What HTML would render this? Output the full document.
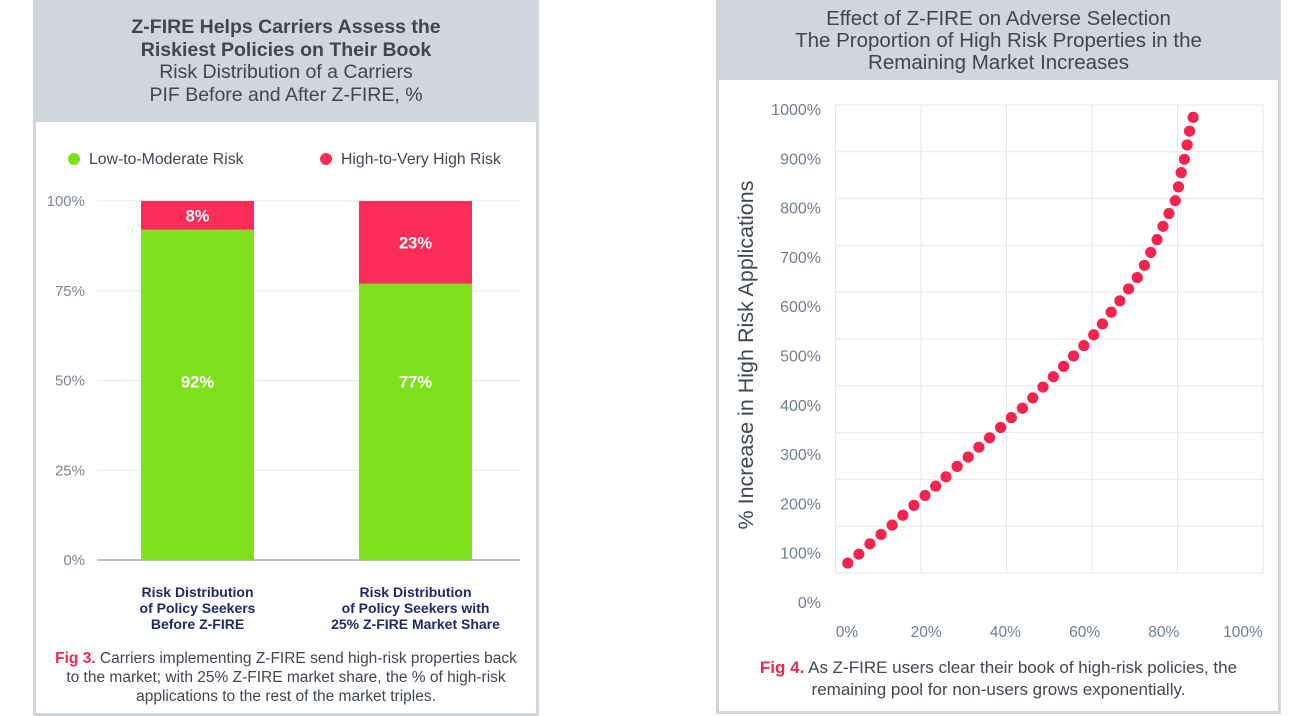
<!DOCTYPE html>
<html><head><meta charset="utf-8">
<style>
body{margin:0;width:1314px;height:716px;background:#fff;font-family:"Liberation Sans",sans-serif;position:relative;overflow:hidden}
.panel{position:absolute;background:#cfd6dc}
.inner{position:absolute;background:#fff}
.hdr{position:absolute;text-align:center;color:#3d4852}
svg{position:absolute;left:0;top:0}
</style></head><body>
<div class="panel" style="left:33px;top:0;width:506px;height:716px"></div>
<div class="inner" style="left:36px;top:122px;width:500px;height:591px"></div>
<div class="hdr" style="left:33px;top:16px;width:506px;font-size:19.5px;line-height:22.5px"><b>Z-FIRE Helps Carriers Assess the<br>Riskiest Policies on Their Book</b><br>Risk Distribution of a Carriers<br>PIF Before and After Z-FIRE, %</div>

<div class="panel" style="left:716px;top:0;width:565px;height:714px"></div>
<div class="inner" style="left:719px;top:80px;width:559px;height:631px"></div>
<div class="hdr" style="left:716px;top:8px;width:565px;font-size:20.5px;line-height:22px">Effect of Z-FIRE on Adverse Selection<br>The Proportion of High Risk Properties in the<br>Remaining Market Increases</div>

<svg width="1314" height="716" id="s"></svg>

<div style="position:absolute;left:36px;top:649px;width:500px;text-align:center;font-size:15.5px;line-height:19px;color:#3d4852"><b style="color:#f0274f">Fig 3.</b> Carriers implementing Z-FIRE send high-risk properties back<br>to the market; with 25% Z-FIRE market share, the % of high-risk<br>applications to the rest of the market triples.</div>
<div style="position:absolute;left:719px;top:657px;width:559px;text-align:center;font-size:17px;line-height:22px;color:#3d4852"><b style="color:#f0274f">Fig 4.</b> As Z-FIRE users clear their book of high-risk policies, the<br>remaining pool for non-users grows exponentially.</div>

<script>
const barCats=["Risk Distribution|of Policy Seekers|Before Z-FIRE","Risk Distribution|of Policy Seekers with|25% Z-FIRE Market Share"];
const lowVals=[92,77];
const highVals=[8,23];
const barTicks=[0,25,50,75,100];
const xVals=[0.2,3.0,5.8,8.6,11.4,14.1,16.9,19.7,22.4,25.0,27.8,30.6,33.3,36.0,38.8,41.5,44.3,46.9,49.5,52.1,54.7,57.2,59.8,62.3,64.5,66.7,68.9,71.1,73.3,75.1,76.7,78.3,79.8,81.3,82.9,83.7,84.4,85.2,85.9,86.5,87.4];
const yVals=[81,99,120,139,158,178,198,218,237,256,277,296,316,335,356,376,395,416,438,459,480,501,522,544,566,590,613,637,660,685,711,737,764,790,816,844,873,900,929,957,985];
const xTicks=[0,20,40,60,80,100];
const yTicks=[0,100,200,300,400,500,600,700,800,900,1000];

const s=document.getElementById('s');
function mk(t,a,txt){const e=document.createElementNS('http://www.w3.org/2000/svg',t);for(const k in a)e.setAttribute(k,a[k]);if(txt!==undefined)e.textContent=txt;s.appendChild(e);return e;}
const F='Liberation Sans, sans-serif';

// ---- bar chart ----
const by=v=>560-v*3.59;
const bx=i=>141+i*218;
const bw=113;
barTicks.forEach(t=>{
  const l=mk('line',{x1:97,x2:520,y1:by(t),y2:by(t),stroke:t===0?'#b7c0c8':'#e6e9ec','stroke-width':t===0?2:1});
  
  
  const tx=mk('text',{x:85,y:by(t)+5,'text-anchor':'end','font-size':15,fill:'#7a8794','font-family':F},t+'%');
  
  
});
barCats.forEach((c,i)=>{
  const g=mk('rect',{x:bx(i),y:by(lowVals[i]),width:bw,height:by(0)-by(lowVals[i]),fill:'#7fe11b'});
  
  
  const r=mk('rect',{x:bx(i),y:by(lowVals[i]+highVals[i]),width:bw,height:by(lowVals[i])-by(lowVals[i]+highVals[i]),fill:'#fa2d58'});
  
  
  const lt=mk('text',{x:bx(i)+bw/2,y:by(50)+7,'text-anchor':'middle','font-size':16.5,'font-weight':'bold',fill:'#fff','font-family':F},lowVals[i]+'%');
  
  
  const ht=mk('text',{x:bx(i)+bw/2,y:(by(lowVals[i])+by(lowVals[i]+highVals[i]))/2+6,'text-anchor':'middle','font-size':16.5,'font-weight':'bold',fill:'#fff','font-family':F},highVals[i]+'%');
  
  
  c.split('|').forEach((ln,j)=>{
    const ct=mk('text',{x:bx(i)+bw/2,y:597+j*16,'text-anchor':'middle','font-size':14,'font-weight':'bold',fill:'#1d2a6b','font-family':F},ln);
    
    
  });
});
[[74,'#7fe11b','Low-to-Moderate Risk'],[326,'#fa2d58','High-to-Very High Risk']].forEach(L=>{
  const d=mk('circle',{cx:L[0],cy:159,r:6,fill:L[1]});
  
  
  const t=mk('text',{x:L[0]+15,y:164,'font-size':15.8,fill:'#3d4852','font-family':F},L[2]);
  
  
});

// ---- scatter chart ----
const sx=v=>847+v*3.96;
const sy=v=>603-v*0.493;
for(let i=0;i<=5;i++){
  const g=mk('line',{x1:835.5+i*85.5,x2:835.5+i*85.5,y1:105,y2:573,stroke:'#e6e8ea','stroke-width':1});
  
  
}
for(let i=0;i<=10;i++){
  const g=mk('line',{x1:835,x2:1264,y1:105+i*46.8,y2:105+i*46.8,stroke:'#e6e8ea','stroke-width':1});
  
  
}
xTicks.forEach(t=>{
  const e=mk('text',{x:sx(t),y:637,'text-anchor':'middle','font-size':15.5,fill:'#6e7f90','font-family':F},t+'%');
  
  
});
yTicks.forEach(t=>{
  const e=mk('text',{x:821,y:sy(t)+5,'text-anchor':'end','font-size':16,fill:'#6e7f90','font-family':F},t+'%');
  
  
});
const yt=mk('text',{x:753,y:355,'text-anchor':'middle','font-size':21.5,fill:'#3d4852','font-family':F,transform:'rotate(-90 753 355)'},'% Increase in High Risk Applications');


xVals.forEach((x,i)=>{
  const c=mk('circle',{cx:sx(x),cy:sy(yVals[i]),r:5.6,fill:'#f4244f'});
  
  
});
</script>
</body></html>
